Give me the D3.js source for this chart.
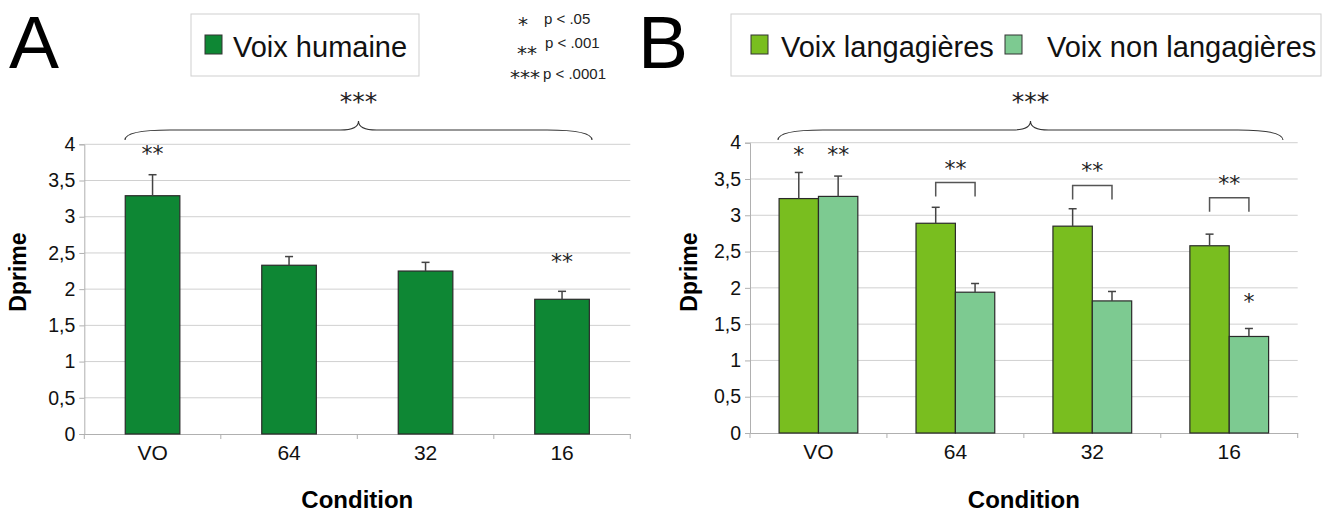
<!DOCTYPE html>
<html><head><meta charset="utf-8">
<script src="https://cdn.jsdelivr.net/npm/d3@7"></script>
<style>
body{margin:0;background:#fff;}
text{font-family:"Liberation Sans",Arial,sans-serif;}
text.star{font-family:"DejaVu Sans",sans-serif;}
</style></head>
<body><svg id="c" width="1332" height="512"></svg>
<script>
// ---------- data ----------
const categories = ["VO","64","32","16"];
const yTicks = [0,0.5,1,1.5,2,2.5,3,3.5,4];
const seriesA = ["Voix humaine"];
const humaineMean = [3.29,2.33,2.25,1.86];
const humaineErr  = [3.58,2.45,2.37,1.97];
const seriesB = ["Voix langagières","Voix non langagières"];
const langMean    = [3.23,2.89,2.85,2.58];
const langErr     = [3.59,3.11,3.09,2.74];
const nonLangMean = [3.26,1.94,1.82,1.33];
const nonLangErr  = [3.54,2.06,1.95,1.44];
const sigStarsA = [{cat:"VO",s:0,label:"**",level:3.94},{cat:"16",s:0,label:"**",level:2.45}];
const sigStarsB = [{cat:"VO",s:0,label:"*",level:3.90},{cat:"VO",s:1,label:"**",level:3.90},
                   {cat:"64",s:-1,label:"**",level:3.71},{cat:"32",s:-1,label:"**",level:3.68},
                   {cat:"16",s:-1,label:"**",level:3.50},{cat:"16",s:1,label:"*",level:1.88}];
const bracketsB = [{cat:"64",level:3.45},{cat:"32",level:3.41},{cat:"16",level:3.24}];
const sigLegend = [{stars:"*",text:"p < .05"},{stars:"**",text:"p < .001"},{stars:"***",text:"p < .0001"}];
const yLabel = "Dprime", xLabel = "Condition";

const svg = d3.select("#c");
const colA = "#0e8734", colB1 = "#79be1f", colB2 = "#7dca91";

function panel(o){
  const g = svg.append("g");
  const x = d3.scaleBand().domain(categories).range([o.x0,o.x1]);
  const y = d3.scaleLinear().domain([0,4]).range([o.y0,o.y4]);
  const step = x.step();
  // gridlines
  g.selectAll(".grid").data(yTicks.filter(d=>d>0)).join("line")
    .attr("x1",o.x0).attr("x2",o.x1).attr("y1",d=>y(d)).attr("y2",d=>y(d))
    .attr("stroke","#d0d0d0").attr("stroke-width",1);
  // y axis
  const ya = g.append("g").attr("transform",`translate(${o.x0},0)`)
    .call(d3.axisLeft(y).tickValues(yTicks).tickSize(5).tickPadding(4)
      .tickFormat(d=>String(d).replace(".",",")));
  ya.select(".domain").attr("stroke","#b0b0b0");
  ya.selectAll(".tick line").attr("stroke","#b0b0b0");
  ya.selectAll(".tick text").attr("font-size",19.5).attr("fill","#111")
    .attr("font-family","Liberation Sans, Arial, sans-serif");
  // x axis
  const xa = g.append("g").attr("transform",`translate(0,${o.y0})`)
    .call(d3.axisBottom(x).tickSize(0).tickPadding(11));
  xa.select(".domain").attr("stroke","#b0b0b0");
  xa.selectAll(".tick text").attr("font-size",21).attr("fill","#111")
    .attr("font-family","Liberation Sans, Arial, sans-serif");
  const bounds = categories.map(c=>x(c)).concat([o.x1]);
  g.selectAll(".xt").data(bounds).join("line")
    .attr("x1",d=>d).attr("x2",d=>d).attr("y1",o.y0).attr("y2",o.y0+5)
    .attr("stroke","#b0b0b0");
  // bars
  const n = o.series.length;
  const inner = d3.scaleBand().domain(d3.range(n)).range([-o.groupFrac*step/2, o.groupFrac*step/2]);
  const barCenter = (c,s)=> x(c)+step/2+inner(s)+inner.bandwidth()/2;
  o.series.forEach((ser,s)=>{
    const data = categories.map((c,i)=>({c,v:ser.mean[i],e:ser.err[i]}));
    g.selectAll(null).data(data).join("rect")
      .attr("x",d=>x(d.c)+step/2+inner(s)).attr("width",inner.bandwidth())
      .attr("y",d=>y(d.v)).attr("height",d=>y(0)-y(d.v))
      .attr("fill",ser.color).attr("stroke","#2a2a2a").attr("stroke-width",1.2);
    g.selectAll(null).data(data).join("line")
      .attr("x1",d=>barCenter(d.c,s)).attr("x2",d=>barCenter(d.c,s))
      .attr("y1",d=>y(d.v)).attr("y2",d=>y(d.e)).attr("stroke","#444").attr("stroke-width",1.5);
    g.selectAll(null).data(data).join("line")
      .attr("x1",d=>barCenter(d.c,s)-4).attr("x2",d=>barCenter(d.c,s)+4)
      .attr("y1",d=>y(d.e)).attr("y2",d=>y(d.e)).attr("stroke","#444").attr("stroke-width",1.5);
  });
  // brackets
  (o.brackets||[]).forEach(b=>{
    const xa_ = barCenter(b.cat,0), xb_ = barCenter(b.cat,1), yy = y(b.level);
    g.append("path").attr("d",`M${xa_},${yy+14}V${yy}H${xb_}V${yy+14}`)
      .attr("fill","none").attr("stroke","#555").attr("stroke-width",1.5);
  });
  // significance stars
  o.stars.forEach(st=>{
    const cx = st.s<0 ? x(st.cat)+step/2 : barCenter(st.cat,st.s);
    g.append("text").attr("class","star").attr("x",cx).attr("y",y(st.level)+12).attr("text-anchor","middle")
      .attr("font-size",22).attr("fill","#222").text(st.label);
  });
  // brace
  const bx0 = o.braceX0, bx1 = o.braceX1, bm=(bx0+bx1)/2, by=130;
  g.append("path").attr("d",
    `M${bx0},${by+10} Q${bx0},${by} ${bx0+45},${by} L${bm-18},${by} Q${bm},${by} ${bm},${by-9} Q${bm},${by} ${bm+18},${by} L${bx1-45},${by} Q${bx1},${by} ${bx1},${by+10}`)
    .attr("fill","none").attr("stroke","#333").attr("stroke-width",1.1);
  g.append("text").attr("class","star").attr("x",bm).attr("y",110).attr("text-anchor","middle")
    .attr("font-size",25).attr("fill","#222").text("***");
  // axis titles
  g.append("text").attr("transform",`translate(${o.yLabX},272) rotate(-90)`)
    .attr("text-anchor","middle").attr("font-size",23).attr("font-weight","bold").attr("fill","#000").text(yLabel);
  g.append("text").attr("x",(o.x0+o.x1)/2).attr("y",508).attr("text-anchor","middle")
    .attr("font-size",24).attr("font-weight","bold").attr("fill","#000").text(xLabel);
  // panel letter
  g.append("text").attr("x",o.letterX).attr("y",68).attr("font-size",75).attr("fill","#000").text(o.letter);
  // legend
  const lg = g.append("g");
  lg.append("rect").attr("x",o.leg.x).attr("y",14).attr("width",o.leg.w).attr("height",62)
    .attr("fill","#fff").attr("stroke","#cfcfcf");
  o.series.forEach((ser,s)=>{
    lg.append("rect").attr("x",o.leg.sw[s]).attr("y",35).attr("width",17).attr("height",19)
      .attr("fill",ser.color).attr("stroke","#333").attr("stroke-width",1);
    lg.append("text").attr("x",o.leg.tx[s]).attr("y",57).attr("font-size",29).attr("fill","#111").text(ser.name);
  });
}

panel({x0:84.3,x1:630.3,y0:434,y4:144.3,groupFrac:0.4,
  series:[{name:seriesA[0],mean:humaineMean,err:humaineErr,color:colA}],
  stars:sigStarsA, braceX0:125, braceX1:592, yLabX:26, letter:"A", letterX:9,
  leg:{x:191,w:228,sw:[205],tx:[233]}});

panel({x0:750,x1:1297.7,y0:433,y4:142.7,groupFrac:0.575,
  series:[{name:seriesB[0],mean:langMean,err:langErr,color:colB1},
          {name:seriesB[1],mean:nonLangMean,err:nonLangErr,color:colB2}],
  stars:sigStarsB, brackets:bracketsB, braceX0:778, braceX1:1283, yLabX:697, letter:"B", letterX:638,
  leg:{x:731,w:590,sw:[751,1005],tx:[781,1047]}});

// significance legend
const starPos = [{x:523,y:31},{x:527,y:60},{x:525,y:84}];
const pPos = [{x:544,y:24},{x:545,y:48},{x:543,y:79}];
const sl = svg.append("g");
sigLegend.forEach((d,i)=>{
  sl.append("text").attr("class","star").attr("x",starPos[i].x).attr("y",starPos[i].y).attr("text-anchor","middle")
    .attr("font-size",20).attr("fill","#222").text(d.stars);
  sl.append("text").attr("x",pPos[i].x).attr("y",pPos[i].y).attr("font-size",15).attr("fill","#222").text(d.text);
});
</script></body></html>
